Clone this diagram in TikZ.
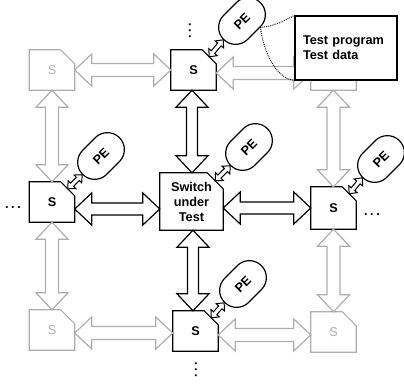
\documentclass[tikz,border=0pt]{standalone}
\usepackage{fontspec}
\setmainfont{Liberation Sans}
\usetikzlibrary{calc,shapes.misc}

\definecolor{faint}{HTML}{AEAEAE}

% Outline double-headed block arrow between two points
% #1 style, #2 start, #3 end, #4 head length, #5 head half-width, #6 shaft half-width
\newcommand\dblarrow[6][]{%
  \coordinate (ba-s) at (#2);
  \coordinate (ba-e) at (#3);
  \draw[#1] (ba-s)
    -- ($(ba-s)!#4!(ba-e)!#5!90:(ba-e)$)
    -- ($(ba-s)!#4!(ba-e)!#6!90:(ba-e)$)
    -- ($(ba-e)!#4!(ba-s)!#6!-90:(ba-s)$)
    -- ($(ba-e)!#4!(ba-s)!#5!-90:(ba-s)$)
    -- (ba-e)
    -- ($(ba-e)!#4!(ba-s)!#5!90:(ba-s)$)
    -- ($(ba-e)!#4!(ba-s)!#6!90:(ba-s)$)
    -- ($(ba-s)!#4!(ba-e)!#6!-90:(ba-e)$)
    -- ($(ba-s)!#4!(ba-e)!#5!-90:(ba-e)$)
    -- cycle;}

% Switch outline with the top-right corner cut off
% #1 style, #2 node name, #3 cut size
\newcommand\chamferbox[3][outline]{%
  \path[#1] (#2.south west) -- (#2.north west) -- ([xshift=-#3]#2.north east)
    -- ([yshift=-#3]#2.north east) -- (#2.south east) -- cycle;}

\tikzset{
  lbl/.style={font=\fontsize{12.7}{15}\selectfont\bfseries},
  cell/.style={rectangle, minimum width=45pt, minimum height=40pt, inner sep=0pt, lbl},
  faintcell/.style={cell, text=faint, font=\fontsize{12.7}{15}\selectfont},
  pe/.style={rounded rectangle, draw, line width=1.2pt, minimum width=52pt,
    minimum height=34pt, inner sep=0pt, rotate=45, fill=white, lbl},
  outline/.style={draw=black, line width=1.2pt, line join=miter},
  fadeoutline/.style={draw=faint, line width=1.2pt, line join=miter},
  bigarrow/.style={draw=black, fill=white, line width=1.2pt, line join=miter},
  fadearrow/.style={draw=faint, fill=white, line width=1.2pt, line join=miter},
  smallarrow/.style={draw=black, fill=white, line width=1pt, line join=miter},
  link/.style={densely dotted, line width=0.9pt},
}

\begin{document}
\begin{tikzpicture}[x=1pt, y=-1pt]
\useasboundingbox (0,0) rectangle (404,386);

% switches of the mesh
\node[faintcell] (gtl) at (52,70) {S};
\node[cell] (top) at (193.5,70) {S};
\node[faintcell] (gtr) at (333.5,70) {S};
\node[cell] (sl) at (52,202) {S};
\node[cell, minimum width=63pt, minimum height=57pt, align=center] (sut)
  at (191.5,201.5) {Switch\\under\\Test};
\node[cell, minimum height=42pt] (sr) at (333.5,208) {S};
\node[cell] (sb) at (195.5,331) {S};
\node[faintcell] (gbl) at (52,330) {S};
\node[faintcell] (gbr) at (333.5,332) {S};

\chamferbox[fadeoutline]{gtl}{14pt}
\chamferbox{top}{14pt}
\chamferbox[fadeoutline]{gtr}{14pt}
\chamferbox{sl}{14pt}
\chamferbox{sut}{16pt}
\chamferbox{sr}{14pt}
\chamferbox{sb}{14pt}
\chamferbox[fadeoutline]{gbl}{14pt}
\chamferbox[fadeoutline]{gbr}{14pt}

% links between switches
\dblarrow[fadearrow]{gtl.east}{top.west}{17pt}{16pt}{6.5pt}
\dblarrow[fadearrow]{top.east |- 0,73}{gtr.west |- 0,73}{17pt}{16pt}{6.5pt}
\dblarrow[fadearrow]{gtl.south}{sl.north}{17pt}{16pt}{6.5pt}
\dblarrow[bigarrow]{192,0 |- top.south}{192,0 |- sut.north}{17pt}{16pt}{5.5pt}
\dblarrow[fadearrow]{gtr.south}{sr.north}{17pt}{16pt}{6.5pt}
\dblarrow[bigarrow]{sl.east |- 0,209}{sut.west |- 0,209}{17pt}{16pt}{6pt}
\dblarrow[bigarrow]{sut.east |- 0,208}{sr.west |- 0,208}{17pt}{16pt}{6pt}
\dblarrow[fadearrow]{sl.south}{gbl.north}{17pt}{16pt}{6.5pt}
\dblarrow[bigarrow]{193,0 |- sut.south}{193,0 |- sb.north}{17pt}{16pt}{5.5pt}
\dblarrow[fadearrow]{sr.south}{gbr.north}{17pt}{16pt}{6.5pt}
\dblarrow[fadearrow]{gbl.east |- 0,333}{sb.west |- 0,333}{17pt}{16pt}{6.5pt}
\dblarrow[fadearrow]{sb.east |- 0,335}{gbr.west |- 0,335}{17pt}{16pt}{6.5pt}

% processing elements
\node[pe] (pe1) at (242,21) {PE};
\node[pe] (pe2) at (101,156) {PE};
\node[pe] (pe3) at (249,147) {PE};
\node[pe] (pe4) at (381,159) {PE};
\node[pe] (pe5) at (243,284) {PE};

% each PE hangs off the cut corner of its switch
\dblarrow[smallarrow]{[xshift=-7pt,yshift=-7pt]top.north east}{pe1.west}{6pt}{5.5pt}{2.2pt}
\dblarrow[smallarrow]{[xshift=-7pt,yshift=-7pt]sl.north east}{pe2.west}{6pt}{5.5pt}{2.2pt}
\dblarrow[smallarrow]{[xshift=-8pt,yshift=-8pt]sut.north east}{pe3.west}{6pt}{5.5pt}{2.2pt}
\dblarrow[smallarrow]{[xshift=-7pt,yshift=-7pt]sr.north east}{pe4.west}{6pt}{5.5pt}{2.2pt}
\dblarrow[smallarrow]{[xshift=-7pt,yshift=-7pt]sb.north east}{pe5.west}{6pt}{5.5pt}{2.2pt}

% continuation marks
\node[lbl, inner sep=0pt] (dl) at (13,208) {.\hspace{2.6pt}.\hspace{2.6pt}.};
\node[lbl, inner sep=0pt] (dr) at (372,215) {.\hspace{2.6pt}.\hspace{2.6pt}.};
\node[lbl, inner sep=0pt, rotate=90] (dt) at (190,30.5) {.\hspace{2.4pt}.\hspace{2.4pt}.};
\node[lbl, inner sep=0pt, rotate=90] (db) at (196,370) {.\hspace{2.6pt}.\hspace{2.6pt}.};

% test program held by the PE
\node[draw, line width=1.2pt, fill=white, minimum width=102pt, minimum height=64pt,
  text width=86pt, inner xsep=8pt, align=left, lbl] (tp) at (346,48)
  {Test program\\Test data};
\draw[link] (pe1.-64) .. controls +(14,-1) and +(-10,5) .. (tp.north west);
\draw[link] (pe1.-64) .. controls +(3,25) and +(-18,-2) .. (tp.south west);
\end{tikzpicture}
\end{document}
